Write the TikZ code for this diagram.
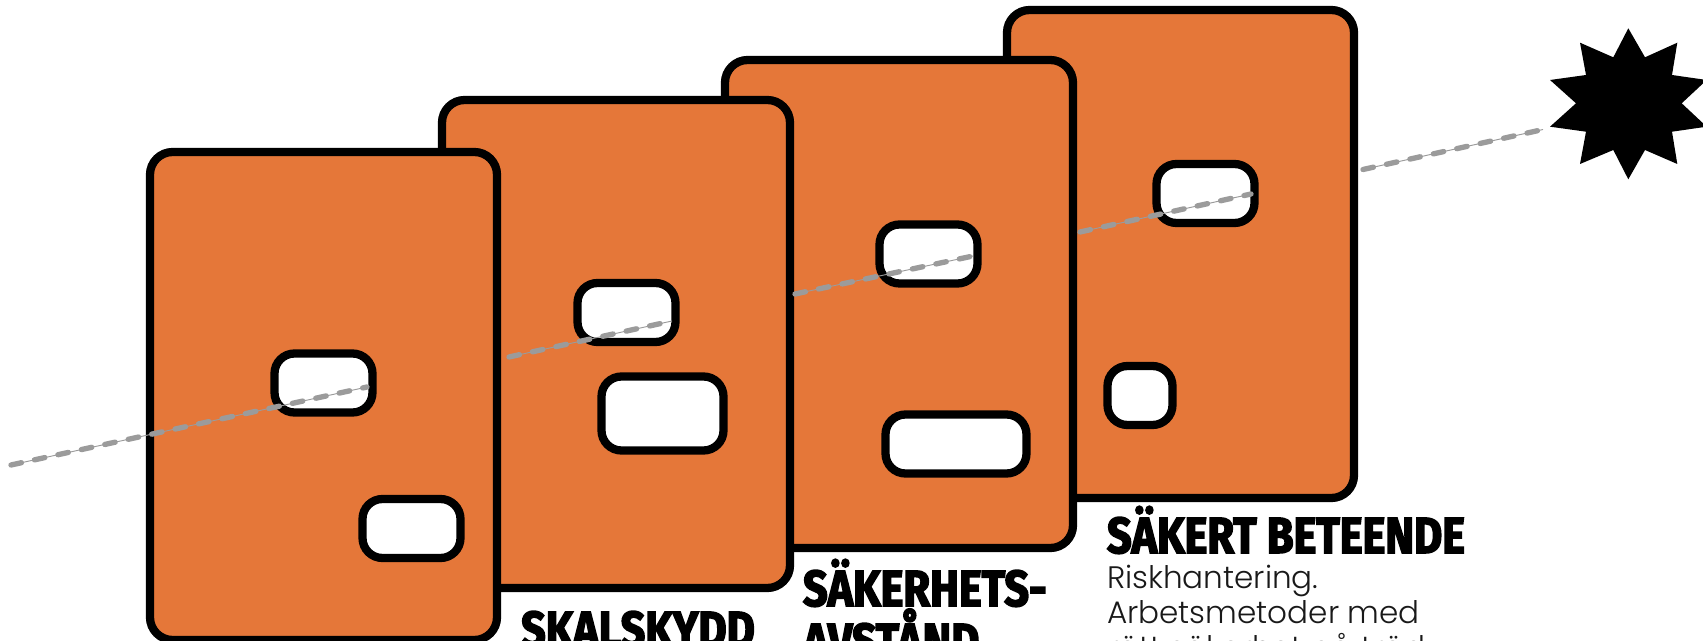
\documentclass[tikz,border=0pt]{standalone}
\usepackage{fontspec}
\setmainfont{Poppins Light}
\newfontfamily\headf[FakeStretch=0.855,FakeBold=3]{Fira Sans Bold}
\definecolor{panelorange}{HTML}{E57739}
\definecolor{rayg}{HTML}{9B9B9B}
\tikzset{
  panel/.style 2 args={draw=black,fill=panelorange,line width=6.2pt,rounded corners=17pt,minimum width=#1*.75pt,minimum height=#2*.75pt,inner sep=0pt,outer sep=0pt},
  hole/.style 2 args={draw=black,fill=white,line width=6.2pt,rounded corners=15pt,minimum width=#1*.75pt,minimum height=#2*.75pt,inner sep=0pt,outer sep=0pt},
  raybase/.style={draw=rayg,line width=.7pt},
  raydash/.style={draw=rayg,line width=4pt,line cap=round,dash pattern=on 8pt off 10pt},
  headtxt/.style={anchor=base west,inner sep=0pt,outer sep=0pt,font=\headf\fontsize{38}{38}\selectfont,text=black},
  bodytxt/.style={anchor=base west,inner sep=0pt,outer sep=0pt,font=\fontsize{23.3}{23.3}\selectfont,text=black!90}
}
\begin{document}
\begin{tikzpicture}[x=.75pt,y=-.75pt]
\useasboundingbox (0,0) rectangle (1703,641);
\clip (0,0) rectangle (1703,641);
\node[panel={347}{488}] (p4) at (1180.5,254) {};
\node[panel={348}{488}] (p3) at (899,304) {};
\node[panel={348}{488}] (p2) at (616,344) {};
\node[panel={347}{488}] (p1) at (323.5,396) {};
\node[hole={98}{59}] (h1a) at (323.5,383) {};
\node[hole={98}{59}] (h1b) at (411.5,528.5) {};
\node[hole={98}{59}] (h2a) at (626.5,312.5) {};
\node[hole={122}{74}] (h2b) at (662.5,413.5) {};
\node[hole={98}{59}] (h3a) at (928.5,254) {};
\node[hole={141}{59}] (h3b) at (956,444) {};
\node[hole={98}{59}] (h4a) at (1205.5,193.5) {};
\node[hole={65}{59}] (h4b) at (1140,395.5) {};
\fill[black] (1628.3,28.3) -- (1645,57.3) -- (1677.3,42.7) -- (1672,75) -- (1706.7,80) -- (1681.7,103.3) -- (1706.7,126.7) -- (1672,131.7) -- (1677.3,164) -- (1645,150) -- (1628.3,179.3) -- (1613.3,150) -- (1580,164) -- (1586,131.7) -- (1550,126.7) -- (1576,103.3) -- (1550,80) -- (1586,75) -- (1580,42.7) -- (1613.3,57.3) -- cycle;
\coordinate (r1a) at (11,465); \coordinate (r1b) at (367,387);
\coordinate (r2a) at (509,357); \coordinate (r2b) at (672,321);
\coordinate (r3a) at (795,294); \coordinate (r3b) at (973,256);
\coordinate (r4a) at (1080,232); \coordinate (r4b) at (1251,194);
\coordinate (r5a) at (1363,169.5); \coordinate (r5b) at (1543,129.5);
\foreach \a/\b in {r1a/r1b,r2a/r2b,r3a/r3b,r4a/r4b,r5a/r5b}{
  \draw[raybase] (\a) -- (\b);
  \draw[raydash] (\a) -- (\b);
}
\node[headtxt] (t1) at (521,647) {SKALSKYDD};
\node[headtxt] (t2) at (803,606) {SÄKERHETS-};
\node[headtxt] (t2b) at (803,659) {AVSTÅND};
\node[headtxt] (t3) at (1107,553) {SÄKERT BETEENDE};
\node[bodytxt] (b1) at (1107,588) {Riskhantering.};
\node[bodytxt] (b2) at (1107,623) {Arbetsmetoder med};
\node[bodytxt] (b3) at (1107,658) {rätt säkerhet på träd};
\end{tikzpicture}
\end{document}
